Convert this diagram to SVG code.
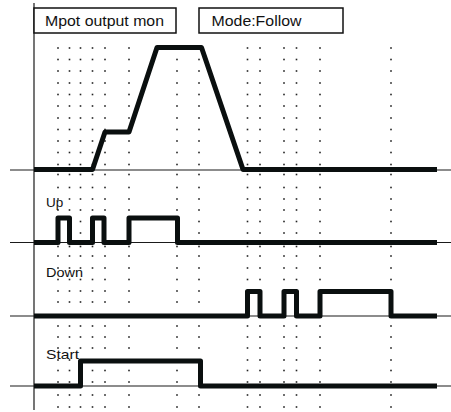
<svg xmlns="http://www.w3.org/2000/svg" xmlns:xlink="http://www.w3.org/1999/xlink" width="451" height="412" viewBox="0 0 451 412">
<style>
.thin{stroke:#1a1a1a;stroke-width:1.2;fill:none}
.sig{stroke:#0a0f0f;stroke-width:5;fill:none;stroke-linejoin:round;stroke-linecap:butt}
.box{fill:#fff;stroke:#111;stroke-width:1.5}
.lbl{font-family:"Liberation Sans",Arial,sans-serif;fill:#111}
.dot{fill:#222}
</style>
<defs>
<g id="dotrow">
<rect class="dot" x="57.2" y="-0.8" width="1.6" height="1.6"/>
<rect class="dot" x="68.7" y="-0.8" width="1.6" height="1.6"/>
<rect class="dot" x="79.7" y="-0.8" width="1.6" height="1.6"/>
<rect class="dot" x="91.7" y="-0.8" width="1.6" height="1.6"/>
<rect class="dot" x="104.2" y="-0.8" width="1.6" height="1.6"/>
<rect class="dot" x="128.2" y="-0.8" width="1.6" height="1.6"/>
<rect class="dot" x="176.2" y="-0.8" width="1.6" height="1.6"/>
<rect class="dot" x="198.2" y="-0.8" width="1.6" height="1.6"/>
<rect class="dot" x="246.7" y="-0.8" width="1.6" height="1.6"/>
<rect class="dot" x="259.2" y="-0.8" width="1.6" height="1.6"/>
<rect class="dot" x="283.2" y="-0.8" width="1.6" height="1.6"/>
<rect class="dot" x="295.7" y="-0.8" width="1.6" height="1.6"/>
<rect class="dot" x="319.2" y="-0.8" width="1.6" height="1.6"/>
<rect class="dot" x="390.2" y="-0.8" width="1.6" height="1.6"/>
</g>
</defs>
<rect width="451" height="412" fill="#fff"/>
<g id="grid">
<use xlink:href="#dotrow" y="48"/>
<use xlink:href="#dotrow" y="59.5"/>
<use xlink:href="#dotrow" y="71"/>
<use xlink:href="#dotrow" y="83"/>
<use xlink:href="#dotrow" y="94.5"/>
<use xlink:href="#dotrow" y="106"/>
<use xlink:href="#dotrow" y="118"/>
<use xlink:href="#dotrow" y="129.5"/>
<use xlink:href="#dotrow" y="141"/>
<use xlink:href="#dotrow" y="152.5"/>
<use xlink:href="#dotrow" y="164.5"/>
<use xlink:href="#dotrow" y="174.5"/>
<use xlink:href="#dotrow" y="187.5"/>
<use xlink:href="#dotrow" y="199"/>
<use xlink:href="#dotrow" y="210"/>
<use xlink:href="#dotrow" y="221.5"/>
<use xlink:href="#dotrow" y="233"/>
<use xlink:href="#dotrow" y="246.5"/>
<use xlink:href="#dotrow" y="256"/>
<use xlink:href="#dotrow" y="268"/>
<use xlink:href="#dotrow" y="279.5"/>
<use xlink:href="#dotrow" y="291"/>
<use xlink:href="#dotrow" y="302"/>
<use xlink:href="#dotrow" y="326"/>
<use xlink:href="#dotrow" y="337"/>
<use xlink:href="#dotrow" y="348"/>
<use xlink:href="#dotrow" y="360"/>
<use xlink:href="#dotrow" y="370.5"/>
<use xlink:href="#dotrow" y="382"/>
<use xlink:href="#dotrow" y="395"/>
<use xlink:href="#dotrow" y="407"/>
</g>
<g id="axes">
<line class="thin" x1="34" y1="3" x2="34" y2="410"/>
<line class="thin" x1="10" y1="170" x2="451" y2="170"/>
<line class="thin" x1="10" y1="242.5" x2="451" y2="242.5"/>
<line class="thin" x1="10" y1="316" x2="451" y2="316"/>
<line class="thin" x1="10" y1="386" x2="451" y2="386"/>
</g>
<g id="signals">
<path id="mpot" class="sig" d="M34 169.5H92.5L105 132H129L157 47.5H201.5L243 169.5H437"/>
<path id="up" class="sig" d="M34 242.5H58V218H69.5V242.5H92.5V218H104V242.5H129V218H177.5V242.5H437"/>
<path id="down" class="sig" d="M34 316H247.5V291.5H260V316H284V291.5H296.5V316H320V291.5H391V316H437"/>
<path id="start" class="sig" d="M34 386H80.5V361H200.5V386H437"/>
</g>
<g id="box-mpot">
<rect class="box" x="34" y="8" width="142" height="25"/>
<text class="lbl" x="45" y="25.5" font-size="14" textLength="119" lengthAdjust="spacingAndGlyphs">Mpot output mon</text>
</g>
<g id="box-mode">
<rect class="box" x="199" y="8" width="144" height="25"/>
<text class="lbl" x="211.5" y="25.5" font-size="14" textLength="90" lengthAdjust="spacingAndGlyphs">Mode:Follow</text>
</g>
<g id="labels">
<text class="lbl" x="46" y="206.7" font-size="12.5" textLength="17.3" lengthAdjust="spacingAndGlyphs">Up</text>
<text class="lbl" x="46" y="276.5" font-size="13" textLength="37" lengthAdjust="spacingAndGlyphs">Down</text>
<text class="lbl" x="46" y="359.3" font-size="13" textLength="33" lengthAdjust="spacingAndGlyphs">Start</text>
</g>
</svg>
